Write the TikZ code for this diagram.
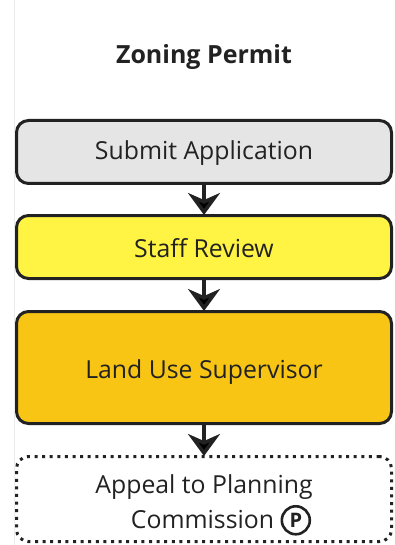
\documentclass[tikz,border=0pt]{standalone}
\usepackage{fontspec}
\setmainfont{Open Sans}
\usetikzlibrary{arrows.meta}
\definecolor{ink}{HTML}{222222}
\definecolor{boxgray}{HTML}{E5E5E5}
\definecolor{boxyellow}{HTML}{FFF344}
\definecolor{boxgold}{HTML}{F8C514}
\tikzset{
  stepbox/.style={draw=ink, line width=3pt, rounded corners=12pt, minimum width=375pt, text=ink, inner sep=0pt},
  boxtext/.style={text=ink, align=center, font=\fontsize{24.8}{35}\selectfont, inner sep=0pt},
  flow/.style={draw=ink, line width=3.5pt, -{Stealth[length=22pt,width=32pt,inset=7pt]}, shorten >=-1pt}
}
\begin{document}
\begin{tikzpicture}[x=1pt,y=-1pt]
\useasboundingbox (0,0) rectangle (395,545);
\fill[white] (0,0) rectangle (395,545);
\draw[black!8, line width=0.8pt] (14,0) -- (14,545);
\node[font=\bfseries\fontsize{25}{30}\selectfont, text=ink] (title) at (204,57) {Zoning Permit};
\node[stepbox, fill=boxgray, minimum height=63pt] (a) at (204,152) {};
\node[stepbox, fill=boxyellow, minimum height=63pt] (b) at (204,247) {};
\node[stepbox, fill=boxgold, minimum height=112pt] (c) at (204,367.5) {};
\node[stepbox, fill=white, minimum height=85pt, dash pattern=on 3pt off 4.6pt] (d) at (204,499) {};
\node[boxtext] (at) at (204,153) {Submit Application};
\node[boxtext] (bt) at (204,248) {Staff Review};
\node[boxtext] (ct) at (204,372) {Land Use Supervisor};
\node[boxtext] (dt) at (204,505) {Appeal to Planning\\\hspace*{34pt}Commission \tikz[baseline=-8pt]\node[circle, draw=ink, solid, line width=2.6pt, inner sep=0pt, minimum size=28pt, font=\bfseries\fontsize{20}{20}\selectfont] {P};};
\draw[flow] (a.south) -- (b.north);
\draw[flow] (b.south) -- (c.north);
\draw[flow] (c.south) -- (d.north);
\end{tikzpicture}
\end{document}
